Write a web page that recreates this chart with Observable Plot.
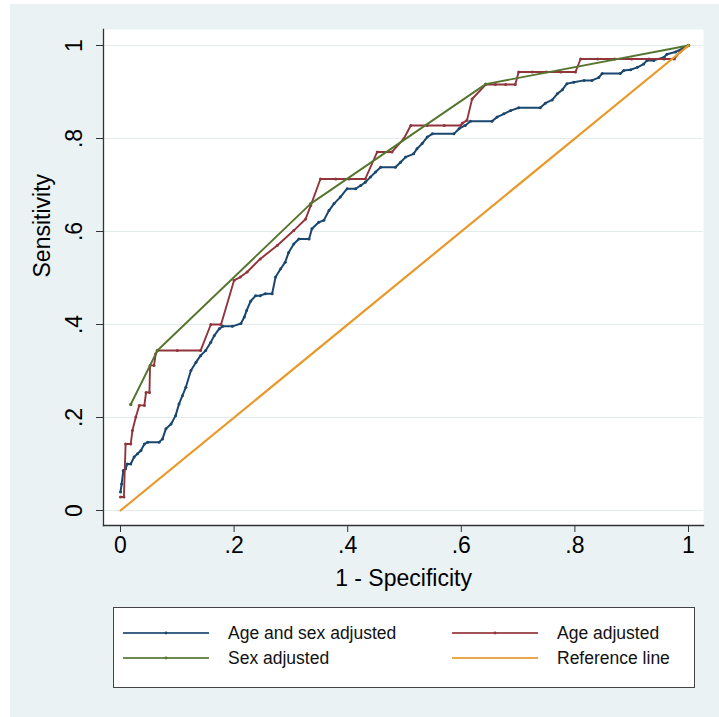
<!DOCTYPE html>
<html><head><meta charset="utf-8">
<script src="https://cdn.jsdelivr.net/npm/d3@7"></script>
<script src="https://cdn.jsdelivr.net/npm/@observablehq/plot@0.6"></script>
<style>
html,body{margin:0;padding:0;background:#fff;}
#page{position:relative;width:719px;height:717px;overflow:hidden;font-family:"Liberation Sans",Arial,sans-serif;}
#bg{position:absolute;left:10px;top:4px;width:709px;height:713px;background:#eaf2f3;}
#chart{position:absolute;left:0;top:0;}
#legend{position:absolute;left:113px;top:607px;width:580px;height:79px;background:#fff;border:1px solid #444;}
.item{position:absolute;height:20px;display:flex;align-items:center;font-size:17.5px;color:#111;white-space:nowrap;}
.item svg{margin-right:19px;}
</style></head>
<body><div id="page"><div id="bg"></div><div id="chart"></div><div id="legend"></div></div>
<script>
// tick values and labels
const xTicks = [0, 0.2, 0.4, 0.6, 0.8, 1];
const xTickLabels = ["0", ".2", ".4", ".6", ".8", "1"];
const yTicks = [0, 0.2, 0.4, 0.6, 0.8, 1];
const yTickLabels = ["0", ".2", ".4", ".6", ".8", "1"];

// series: [1 - specificity, sensitivity]
const ageSexAdjusted = [
  [0.000,0.040],[0.002,0.057],[0.005,0.086],[0.009,0.090],[0.012,0.100],[0.018,0.100],
  [0.024,0.115],[0.030,0.122],[0.036,0.129],[0.042,0.143],[0.048,0.147],[0.068,0.147],
  [0.074,0.154],[0.080,0.176],[0.089,0.186],[0.097,0.204],[0.103,0.229],[0.109,0.247],
  [0.115,0.265],[0.124,0.301],[0.133,0.319],[0.141,0.333],[0.150,0.344],[0.159,0.362],
  [0.165,0.376],[0.174,0.391],[0.180,0.396],[0.197,0.396],[0.212,0.402],[0.218,0.416],
  [0.222,0.430],[0.229,0.450],[0.238,0.462],[0.246,0.462],[0.255,0.466],[0.267,0.466],
  [0.273,0.502],[0.282,0.520],[0.290,0.534],[0.296,0.555],[0.305,0.573],[0.314,0.584],
  [0.332,0.584],[0.337,0.606],[0.349,0.620],[0.358,0.624],[0.367,0.645],[0.376,0.660],
  [0.387,0.674],[0.399,0.692],[0.414,0.692],[0.423,0.699],[0.431,0.706],[0.440,0.717],
  [0.449,0.728],[0.458,0.738],[0.484,0.738],[0.493,0.749],[0.502,0.760],[0.516,0.767],
  [0.522,0.778],[0.531,0.789],[0.540,0.803],[0.549,0.810],[0.587,0.810],[0.596,0.821],
  [0.607,0.828],[0.616,0.837],[0.654,0.837],[0.663,0.846],[0.675,0.853],[0.687,0.860],
  [0.701,0.866],[0.739,0.866],[0.748,0.876],[0.760,0.883],[0.769,0.896],[0.778,0.905],
  [0.786,0.918],[0.798,0.921],[0.816,0.925],[0.830,0.925],[0.842,0.931],[0.848,0.940],
  [0.880,0.940],[0.886,0.946],[0.898,0.948],[0.910,0.953],[0.921,0.960],[0.927,0.968],
  [0.939,0.968],[0.957,0.975],[0.962,0.981],[0.977,0.986],[0.989,0.993],[1.000,1.000]
];
const ageAdjusted = [
  [0.000,0.029],[0.006,0.029],[0.009,0.143],[0.018,0.143],[0.021,0.172],[0.027,0.201],
  [0.033,0.226],[0.042,0.226],[0.045,0.254],[0.051,0.254],[0.052,0.312],[0.059,0.312],
  [0.062,0.337],[0.065,0.344],[0.100,0.344],[0.141,0.344],[0.159,0.400],[0.177,0.400],
  [0.200,0.495],[0.211,0.502],[0.223,0.513],[0.246,0.541],[0.276,0.570],[0.305,0.602],
  [0.326,0.627],[0.335,0.656],[0.352,0.713],[0.379,0.713],[0.402,0.713],[0.431,0.713],
  [0.452,0.771],[0.478,0.771],[0.499,0.800],[0.511,0.828],[0.540,0.828],[0.570,0.828],
  [0.599,0.828],[0.602,0.833],[0.610,0.839],[0.619,0.885],[0.643,0.916],[0.660,0.916],
  [0.678,0.916],[0.695,0.916],[0.701,0.943],[0.725,0.943],[0.750,0.943],[0.775,0.943],
  [0.801,0.943],[0.810,0.971],[0.840,0.971],[0.870,0.971],[0.900,0.971],[0.930,0.971],
  [0.957,0.971],[0.975,0.971],[0.985,0.986],[1.000,1.000]
];
const sexAdjusted = [
  [0.018,0.228],[0.065,0.344],[0.335,0.660],[0.643,0.917],[1.000,1.000]
];
const referenceLine = [[0,0],[1,1]];

const seriesNames = ["Age and sex adjusted", "Age adjusted", "Sex adjusted", "Reference line"];
const seriesColors = ["#1a476f", "#90353b", "#55752f", "#e8992a"];

const X = d => d[0], Y = d => d[1];
const font = "Liberation Sans, Arial, sans-serif";

const chart = Plot.plot({
  width: 719, height: 600,
  marginLeft: 103, marginRight: 16, marginTop: 29, marginBottom: 75,
  style: {background: "transparent", fontFamily: font, overflow: "visible"},
  x: {domain: [0, 1], insetLeft: 17, insetRight: 15},
  y: {domain: [0, 1], insetTop: 16, insetBottom: 15},
  marks: [
    Plot.frame({fill: "#fff", stroke: "none"}),
    Plot.gridY(yTicks, {stroke: "#e3ebed", strokeOpacity: 1, strokeWidth: 1}),
    Plot.axisX(xTicks, {tickSize: 7, tickPadding: 4, tickFormat: d => xTickLabels[xTicks.indexOf(d)],
      fontSize: 23, label: null, stroke: "#333", fill: "#000"}),
    Plot.axisY(yTicks, {tickSize: 7, tickFormat: () => "", label: null, stroke: "#333"}),
    Plot.frame({anchor: "left", stroke: "#333", strokeWidth: 1.3}),
    Plot.frame({anchor: "bottom", stroke: "#333", strokeWidth: 1.3}),
    Plot.text(yTicks, {y: d => d, text: d => yTickLabels[yTicks.indexOf(d)], frameAnchor: "left",
      dx: -29, rotate: -90, fontSize: 23, textAnchor: "middle", lineAnchor: "middle", fill: "#000"}),
    Plot.text(["1 - Specificity"], {frameAnchor: "bottom", dy: 53, fontSize: 23, lineAnchor: "middle", fill: "#000"}),
    Plot.text(["Sensitivity"], {frameAnchor: "left", dx: -61, rotate: -90, fontSize: 23, lineAnchor: "middle", fill: "#000"}),
    Plot.line(ageSexAdjusted, {x: X, y: Y, stroke: seriesColors[0], strokeWidth: 2}),
    Plot.dot(ageSexAdjusted, {x: X, y: Y, r: 1.5, fill: seriesColors[0]}),
    Plot.line(ageAdjusted, {x: X, y: Y, stroke: seriesColors[1], strokeWidth: 1.9}),
    Plot.dot(ageAdjusted, {x: X, y: Y, r: 1.5, fill: seriesColors[1]}),
    Plot.line(sexAdjusted, {x: X, y: Y, stroke: seriesColors[2], strokeWidth: 1.9}),
    Plot.dot(sexAdjusted, {x: X, y: Y, r: 1.7, fill: seriesColors[2]}),
    Plot.line(referenceLine, {x: X, y: Y, stroke: seriesColors[3], strokeWidth: 2.2})
  ]
});
document.getElementById("chart").appendChild(chart);

// legend
const legend = document.getElementById("legend");
const pos = [[9, 15], [338, 15], [9, 40], [338, 40]];
seriesNames.forEach((name, i) => {
  const it = document.createElement("div");
  it.className = "item";
  it.style.left = pos[i][0] + "px";
  it.style.top = pos[i][1] + "px";
  const c = seriesColors[i];
  const dot = i < 3 ? `<circle cx="43" cy="4" r="1.4" fill="${c}"/>` : "";
  it.innerHTML = `<svg width="86" height="8"><line x1="0" x2="86" y1="4" y2="4" stroke="${c}" stroke-width="1.8" stroke-opacity="0.85"/>${dot}</svg><span>${name}</span>`;
  legend.appendChild(it);
});
</script></body></html>
